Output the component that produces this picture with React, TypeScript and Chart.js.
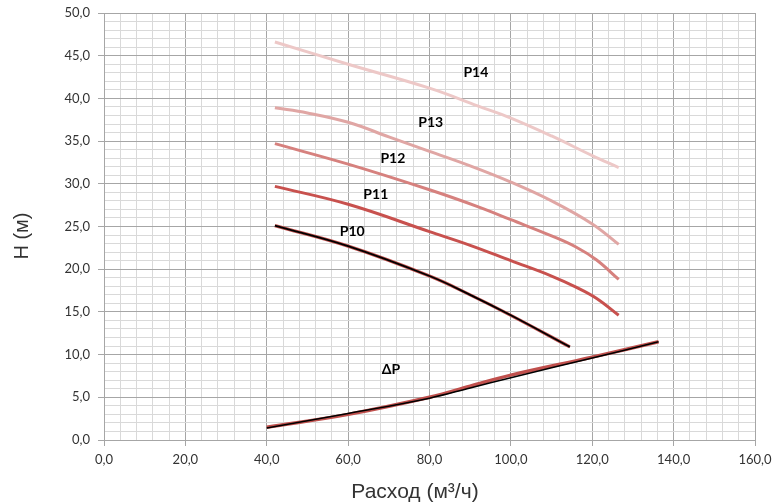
import React, { useEffect, useRef } from "react";
import { Chart, registerables } from "chart.js";
Chart.register(...registerables);

const p14Q = [42, 60, 80, 92, 100, 110, 120, 126.5];
const p14H = [46.6, 44.0, 41.2, 39.1, 37.7, 35.6, 33.3, 31.9];
const p13Q = [42, 50, 60, 70, 80, 90, 100, 110, 120, 126.5];
const p13H = [38.9, 38.3, 37.2, 35.5, 33.8, 32.1, 30.2, 28.0, 25.3, 22.9];
const p12Q = [42, 60, 80, 92, 100, 110, 116, 121, 126.5];
const p12H = [34.7, 32.3, 29.3, 27.3, 25.8, 23.9, 22.6, 21.1, 18.8];
const p11Q = [42, 60, 80, 90, 100, 110, 116, 121, 126.5];
const p11H = [29.7, 27.6, 24.4, 22.8, 21.0, 19.2, 17.9, 16.6, 14.6];
const p10Q = [42, 60, 80, 90, 100, 114.5];
const p10H = [25.1, 22.7, 19.2, 17.0, 14.6, 10.9];
const dpQ = [40, 60, 80, 90, 100, 120, 136.3];
const dpRedH = [1.5, 3.0, 5.0, 6.3, 7.6, 9.7, 11.5];
const dpBlackH = [1.4, 3.1, 4.9, 6.1, 7.3, 9.6, 11.5];

const curveLabels = ["P14", "P13", "P12", "P11", "P10", "ΔP"];
const labelQ = [91.4, 80.3, 71.0, 66.8, 61.0, 70.5];
const labelH = [43.0, 37.2, 33.0, 28.7, 24.4, 8.2];

const pts = (q: number[], h: number[]) => q.map((x, i) => ({ x, y: h[i] }));

export default function App() {
  const ref = useRef<HTMLCanvasElement>(null);
  useEffect(() => {
    document.body.style.margin = "0";
    const line = (data: any, color: string, width: number) => ({
      data,
      borderColor: color,
      backgroundColor: color,
      borderWidth: width,
      showLine: true,
      pointRadius: 0,
      tension: 0.4,
      fill: false,
    });
    const textPlugin = {
      id: "texts",
      afterDatasetsDraw(chart: any) {
        const { ctx, scales } = chart;
        ctx.save();
        ctx.fillStyle = "#000";
        ctx.font = "bold 14px Lato, 'Open Sans', sans-serif";
        ctx.textAlign = "center";
        ctx.textBaseline = "middle";
        curveLabels.forEach((t, i) => {
          ctx.fillText(t, scales.x.getPixelForValue(labelQ[i]), scales.y.getPixelForValue(labelH[i]));
        });
        ctx.fillStyle = "#333";
        ctx.font = "21px 'Liberation Sans', Arial, sans-serif";
        ctx.textBaseline = "alphabetic";
        ctx.fillText("Расход (м³/ч)", 415, 498);
        ctx.font = "20px 'Liberation Sans', Arial, sans-serif";
        ctx.translate(28, 236);
        ctx.rotate(-Math.PI / 2);
        ctx.fillText("H (м)", 0, 0);
        ctx.restore();
      },
    };
    const chart = new Chart(ref.current!, {
      type: "scatter",
      data: {
        datasets: [
          line(pts(p10Q, p10H), "#000000", 1.8),
          line(pts(dpQ, dpBlackH), "#000000", 1.5),
          line(pts(p14Q, p14H), "#edc8c7", 3),
          line(pts(p13Q, p13H), "#e0a6a4", 3),
          line(pts(p12Q, p12H), "#d6817e", 3),
          line(pts(p11Q, p11H), "#c8514e", 3),
          line(pts(p10Q, p10H), "#c0504d", 3.2),
          line(pts(dpQ, dpRedH), "#c0504d", 3.5),
        ] as any,
      },
      plugins: [textPlugin],
      options: {
        animation: false,
        responsive: false,
        layout: { padding: { top: 13, right: 19, left: 0, bottom: 0 } },
        plugins: { legend: { display: false }, tooltip: { enabled: false } },
        scales: {
          x: {
            type: "linear",
            min: 0,
            max: 160,
            afterFit(s: any) {
              s.height = 62;
              s.paddingLeft = 0;
              s.paddingRight = 0;
            },
            afterBuildTicks(s: any) {
              const t = [];
              for (let v = 0; v <= 160; v += 4) t.push({ value: v });
              s.ticks = t;
            },
            border: { color: "#a6a6a6" },
            grid: {
              color: (c: any) => (c.tick && c.tick.value % 20 === 0 ? "#a6a6a6" : "#d9d9d9"),
              tickColor: (c: any) => (c.tick && c.tick.value % 20 === 0 ? "#a6a6a6" : "rgba(0,0,0,0)"),
              tickLength: 6,
              lineWidth: 1,
            },
            ticks: {
              autoSkip: false,
              maxRotation: 0,
              padding: 6,
              color: "#333",
              font: { family: "Lato, 'Open Sans', sans-serif", size: 13 },
              callback: (v: any) => (v % 20 === 0 ? Number(v).toFixed(1).replace(".", ",") : ""),
            },
          },
          y: {
            type: "linear",
            min: 0,
            max: 50,
            afterFit(s: any) {
              s.width = 104;
              s.paddingTop = 0;
              s.paddingBottom = 0;
            },
            afterBuildTicks(s: any) {
              const t = [];
              for (let v = 0; v <= 50; v += 1) t.push({ value: v });
              s.ticks = t;
            },
            border: { color: "#a6a6a6" },
            grid: {
              color: (c: any) => (c.tick && c.tick.value % 5 === 0 ? "#a6a6a6" : "#d9d9d9"),
              tickColor: (c: any) => (c.tick && c.tick.value % 5 === 0 ? "#a6a6a6" : "rgba(0,0,0,0)"),
              tickLength: 6,
              lineWidth: 1,
            },
            ticks: {
              autoSkip: false,
              padding: 8,
              color: "#333",
              font: { family: "Lato, 'Open Sans', sans-serif", size: 13 },
              callback: (v: any) => (v % 5 === 0 ? Number(v).toFixed(1).replace(".", ",") : ""),
            },
          },
        },
      } as any,
    });
    return () => chart.destroy();
  }, []);
  return (
    <div style={{ position: "absolute", left: 0, top: 0, width: 774, height: 502, background: "#fff" }}>
      <canvas ref={ref} width={774} height={502} style={{ width: 774, height: 502 }} />
    </div>
  );
}
